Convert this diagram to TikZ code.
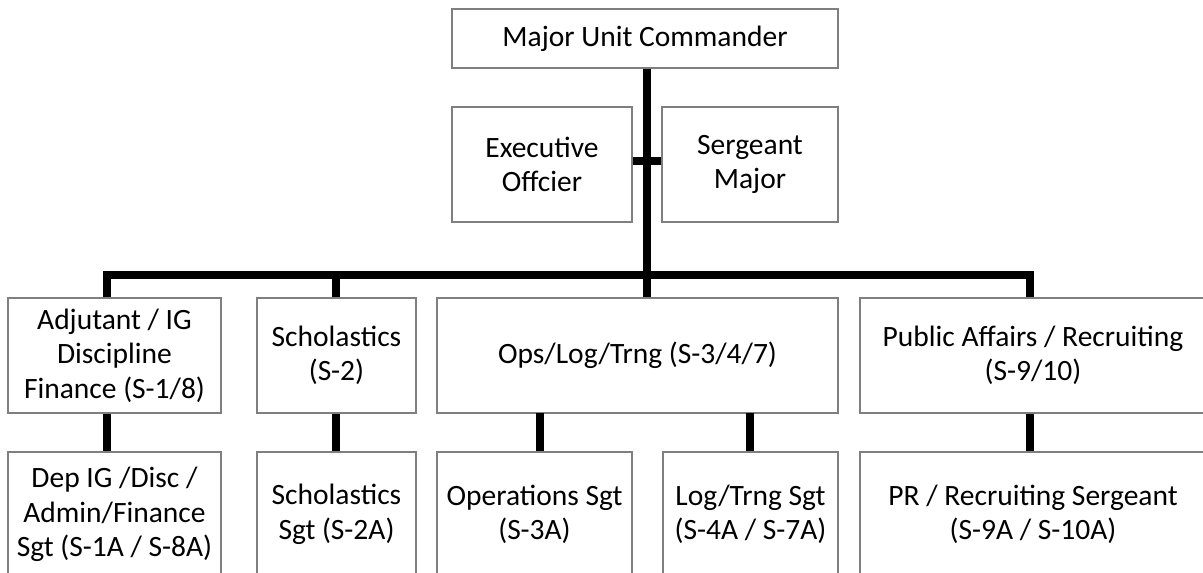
\documentclass[tikz,border=0pt]{standalone}
\usepackage{fontspec}
\setmainfont{Carlito}
\begin{document}
\begin{tikzpicture}[x=1pt,y=-1pt,
  box/.style={draw=boxgray, line width=1.3pt, fill=white, inner sep=0pt,
    align=center, text=black, font=\fontsize{29.5}{34.5}\selectfont},
  conn/.style={line width=8pt, draw=black, line join=miter}]
\definecolor{boxgray}{HTML}{7F7F7F}
\useasboundingbox (0,0) rectangle (1203,573);
\clip (0,0) rectangle (1203,573);

% helper: a box given by its left, top, right, bottom edges
\newcommand{\orgbox}[6]{%
  \node[box, minimum width={#4-#2}, minimum height={#5-#3}]
    (#1) at ({(#2+#4)/2},{(#3+#5)/2}) {#6};}

% top level
\orgbox{cmd}{452}{9}{838}{68}{Major Unit Commander}
\orgbox{xo}{452}{107}{632}{222}{Executive\\Offcier}
\orgbox{sgm}{662}{107}{838}{222}{Sergeant\\Major}

% staff sections
\orgbox{adj}{8}{298}{221}{413}{Adjutant / IG\\Discipline\\Finance (S-1/8)}
\orgbox{sch}{257}{298}{416}{413}{Scholastics\\(S-2)}
\orgbox{ops}{437}{298}{838}{413}{Ops/Log/Trng (S-3/4/7)}
\orgbox{pa}{860}{298}{1206}{413}{Public Affairs / Recruiting\\(S-9/10)}

% section sergeants
\orgbox{adjs}{8}{452}{221}{577}{Dep IG /Disc /\\Admin/Finance\\Sgt (S-1A / S-8A)}
\orgbox{schs}{257}{452}{416}{577}{Scholastics\\Sgt (S-2A)}
\orgbox{opss}{437}{452}{632}{577}{Operations Sgt\\(S-3A)}
\orgbox{logs}{663}{452}{838}{577}{Log/Trng Sgt\\(S-4A / S-7A)}
\orgbox{pas}{860}{452}{1206}{577}{PR / Recruiting Sergeant\\(S-9A / S-10A)}

\coordinate (bus) at (647,275);
\coordinate (opsl) at (540,413);
\coordinate (opsr) at (750,413);

% command trunk and cross bar
\draw[conn] (cmd.south -| bus) -- (bus) -- (ops.north -| bus);
\draw[conn] (xo.east |- 0,161) -- (sgm.west |- 0,161);

% horizontal bus to the staff sections
\draw[conn] ([xshift=-8pt]adj.north) -- ([xshift=-8pt]adj.north |- bus)
  -- ([xshift=-3pt]pa.north |- bus) -- ([xshift=-3pt]pa.north);
\draw[conn] ([xshift=-0.5pt]sch.north) -- ([xshift=-0.5pt]sch.north |- bus);

% sections to their sergeants
\draw[conn] ([xshift=-8pt]adj.south) -- ([xshift=-8pt]adjs.north);
\draw[conn] ([xshift=-0.5pt]sch.south) -- ([xshift=-0.5pt]schs.north);
\draw[conn] (opsl) -- (opsl |- opss.north);
\draw[conn] (opsr) -- (opsr |- logs.north);
\draw[conn] ([xshift=-3pt]pa.south) -- ([xshift=-3pt]pas.north);
\end{tikzpicture}
\end{document}
